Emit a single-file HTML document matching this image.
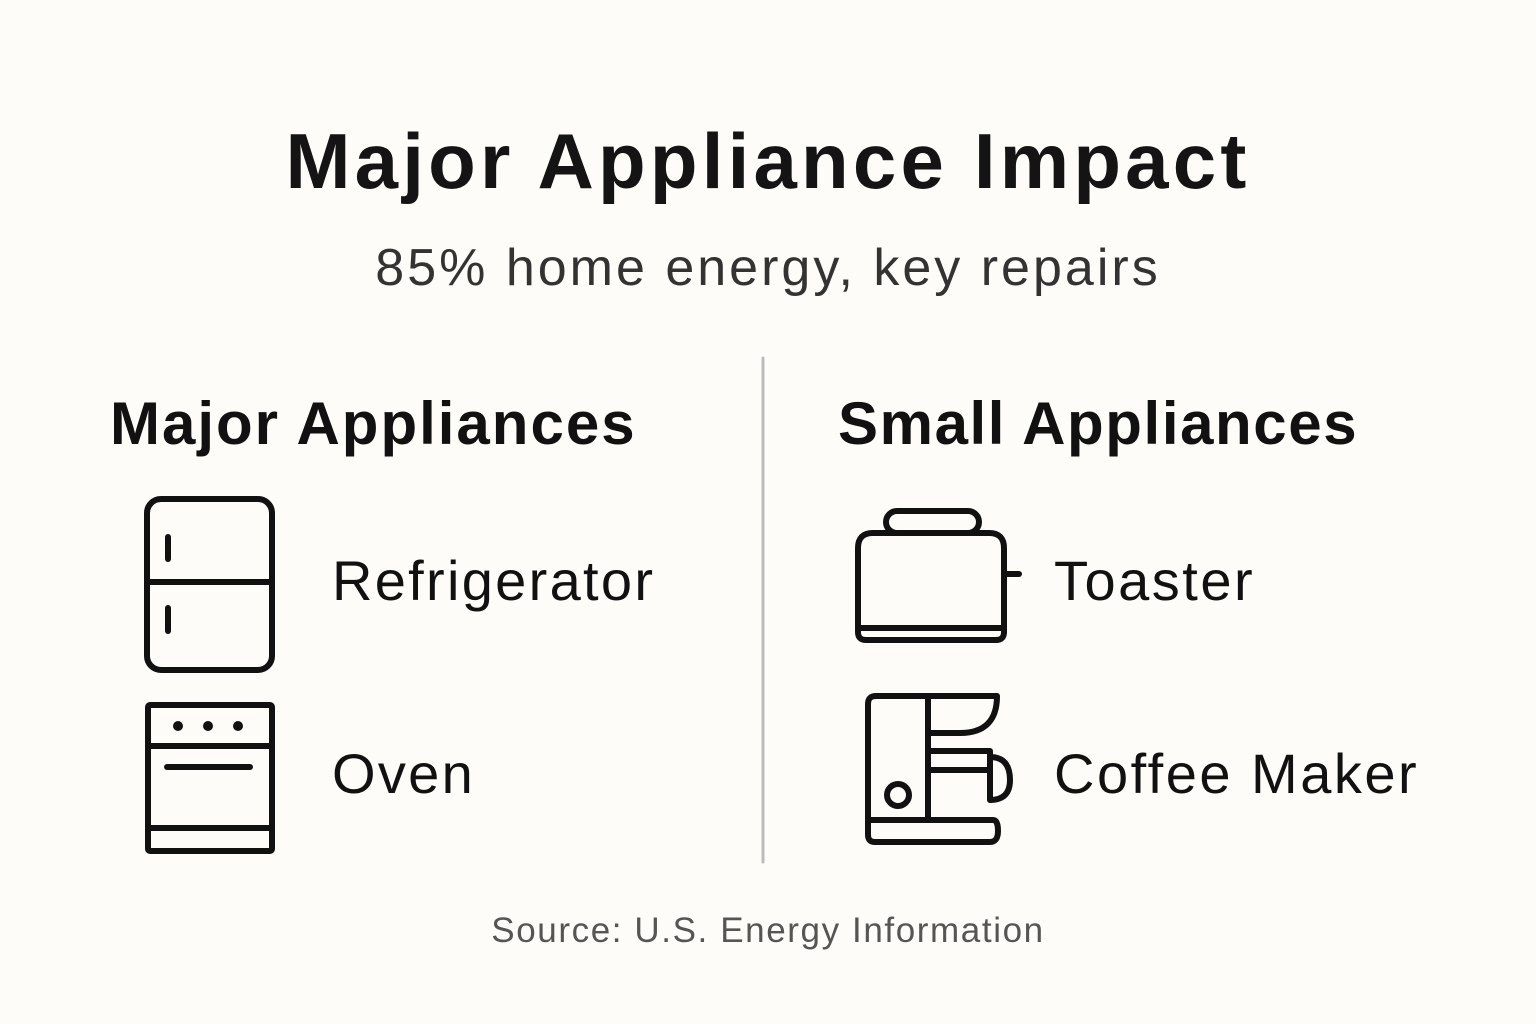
<!DOCTYPE html>
<html><head><style>
body{margin:0;width:1536px;height:1024px;background:#fdfcf9;font-family:"Liberation Sans",sans-serif;color:#111;overflow:hidden;position:relative}
.t{position:absolute;white-space:nowrap;line-height:1}
</style></head><body>
<div class="t" style="left:0;width:1536px;text-align:center;top:122px;font-size:78px;font-weight:bold;color:#141414;letter-spacing:4.2px">Major Appliance Impact</div>
<div class="t" style="left:0;width:1536px;text-align:center;top:242px;font-size:52px;color:#333;letter-spacing:3px">85% home energy, key repairs</div>
<div class="t" style="left:110px;top:394px;font-size:60px;font-weight:bold;letter-spacing:2px">Major Appliances</div>
<div class="t" style="left:838px;top:394px;font-size:60px;font-weight:bold;letter-spacing:1.6px">Small Appliances</div>
<div class="t" style="left:332px;top:553px;font-size:56px;letter-spacing:2.3px">Refrigerator</div>
<div class="t" style="left:332px;top:746px;font-size:56px;letter-spacing:2.3px">Oven</div>
<div class="t" style="left:1054px;top:553px;font-size:56px;letter-spacing:2.5px">Toaster</div>
<div class="t" style="left:1054px;top:746px;font-size:56px;letter-spacing:2.5px">Coffee Maker</div>
<div class="t" style="left:0;width:1536px;text-align:center;top:913px;font-size:35px;color:#555;letter-spacing:1.6px">Source: U.S. Energy Information</div>
<svg width="1536" height="1024" style="position:absolute;left:0;top:0" fill="none" stroke="#111" stroke-width="6" stroke-linecap="round" stroke-linejoin="round">
<line x1="763" y1="358" x2="763" y2="862" stroke="#bbb" stroke-width="3"/>
<rect x="147" y="499" width="125" height="171" rx="14"/>
<line x1="147" y1="582" x2="272" y2="582"/>
<line x1="168" y1="537" x2="168" y2="559"/>
<line x1="168" y1="608" x2="168" y2="631"/>
<rect x="148" y="705" width="124" height="146" rx="2"/>
<line x1="148" y1="746" x2="272" y2="746"/>
<line x1="148" y1="828" x2="272" y2="828"/>
<line x1="167" y1="767" x2="250" y2="767"/>
<g fill="#111" stroke="none"><circle cx="178" cy="726" r="5"/><circle cx="208" cy="726" r="5"/><circle cx="238" cy="726" r="5"/></g>
<rect x="886" y="511" width="93" height="22" rx="11"/>
<path d="M873 533 H989 Q1004 533 1004 548 V632 Q1004 640 996 640 H866 Q858 640 858 632 V548 Q858 533 873 533 Z"/>
<line x1="858" y1="628" x2="1004" y2="628"/>
<line x1="1004" y1="574" x2="1019" y2="574"/>
<path d="M876 696 H997 Q997 733 960 733 H928 M928 696 V820 M876 696 Q868 696 868 704 V820 H993 Q998 820 998 831 Q998 842 990 842 H875 Q868 842 868 835 V820"/>
<path d="M928 751 H990 M928 770 H990 M990 751 V800 M990 757 Q1010 757 1010 780 Q1010 800 990 800"/>
<circle cx="898" cy="795" r="11"/>
</svg>
</body></html>
